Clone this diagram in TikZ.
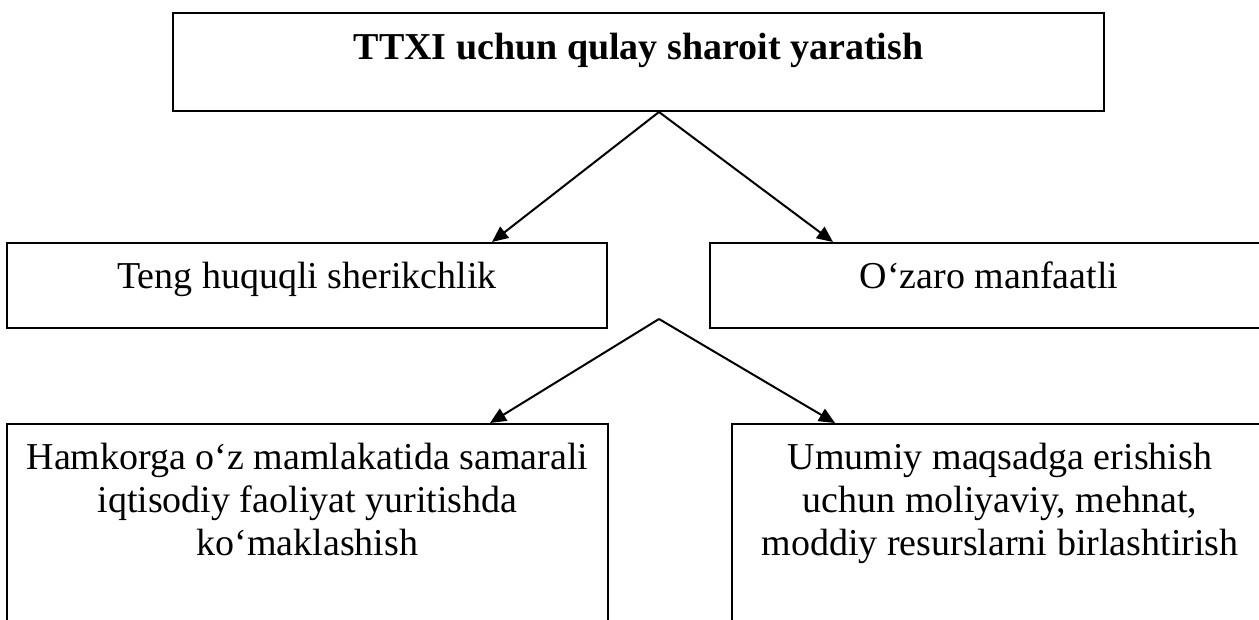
\documentclass[tikz,border=0pt]{standalone}
\usepackage{fontspec}
\setmainfont{Liberation Serif}
\usetikzlibrary{arrows.meta}
\begin{document}
\begin{tikzpicture}[x=0.5pt,y=-0.5pt,
  box/.style={draw,line width=1pt,inner sep=0pt},
  txt/.style={inner sep=0pt,font=\fontsize{19}{21.5}\selectfont},
  mtxt/.style={txt,align=center,anchor=north},
  arr/.style={line width=1pt,-{Triangle[length=8pt,width=7pt]}}]
\useasboundingbox (0,0) rectangle (1259,620);
\clip (0,0) rectangle (1259,620);
% boxes
\node[box,minimum width=465.5pt,minimum height=49pt] (top) at (638.5,62) {};
\node[box,minimum width=300pt,minimum height=42.5pt] (midL) at (307,285.5) {};
\node[box,minimum width=279pt,minimum height=42.5pt] (midR) at (989,285.5) {};
\node[box,minimum width=300.5pt,minimum height=108pt] (botL) at (307.5,532) {};
\node[box,minimum width=268pt,minimum height=108pt] (botR) at (1000,532) {};
% texts
\node[txt,anchor=base] (topT) at (638.5,60) {\bfseries TTXI uchun qulay sharoit yaratish};
\node[txt,anchor=base] (midLT) at (307,289) {Teng huquqli sherikchlik};
\node[txt,anchor=base] (midRT) at (989,289) {O‘zaro manfaatli};
\node[mtxt] (botLT) at (307.5,441) {\rule{0pt}{14pt}Hamkorga o‘z mamlakatida samarali\\iqtisodiy faoliyat yuritishda\\ko‘maklashish};
\node[mtxt] (botRT) at (1000,441) {\rule{0pt}{14pt}Umumiy maqsadga erishish\\uchun moliyaviy, mehnat,\\moddiy resurslarni birlashtirish};
% connectors
\coordinate (ap1) at (659,112);
\coordinate (ap2) at (659,319);
\draw[arr] (ap1) -- (492,0 |- midL.north);
\draw[arr] (ap1) -- (833,0 |- midR.north);
\draw[arr] (ap2) -- (490,0 |- botL.north);
\draw[arr] (ap2) -- (835,0 |- botR.north);
\end{tikzpicture}
\end{document}
